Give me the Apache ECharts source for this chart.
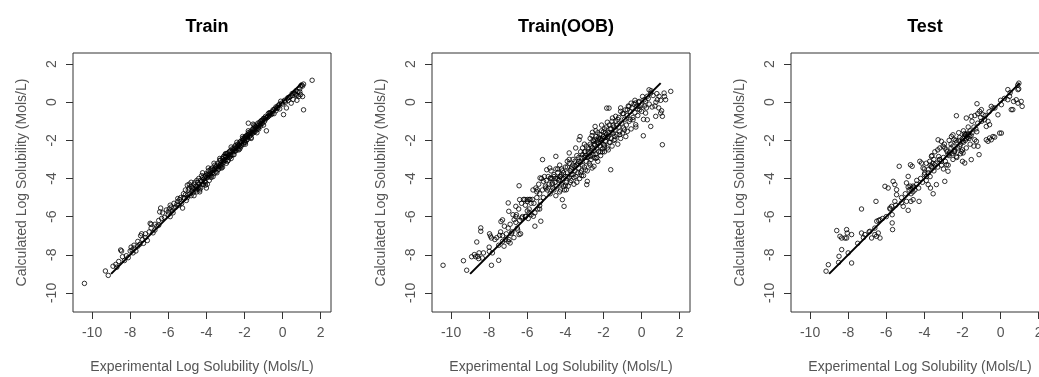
<!DOCTYPE html>
<html>
<head>
<meta charset="utf-8">
<script src="https://cdn.jsdelivr.net/npm/echarts@6/dist/echarts.min.js"></script>
<style>
  html, body { margin: 0; padding: 0; background: #fff; }
  #main { width: 1039px; height: 377px; }
</style>
</head>
<body>
<div id="main"></div>
<script>
// panel titles and tick values
var panelTitles = ['Train', 'Train(OOB)', 'Test'];
var xTicks = [-10, -8, -6, -4, -2, 0, 2];
var yTicks = [-10, -8, -6, -4, -2, 0, 2];
var xName = 'Experimental Log Solubility (Mols/L)';
var yName = 'Calculated Log Solubility (Mols/L)';

// y = x reference line
var refLine = [[-9, -9], [1, 1]];

// [experimental, calculated]
var trainPts = [
  [-10.4,-9.5],[-9.3,-8.85],[-9.15,-9.08],[-8.9,-8.6],[-8.75,-8.5],[-8.6,-8.35],[-8.5,-7.75],[-8.45,-7.8],[-8.3,-8.3],[-8.2,-8.05],
  [-8.1,-8.15],[-7.95,-7.6],[-7.9,-7.75],[-7.85,-7.9],[-7.8,-7.65],[-7.7,-7.8],[-7.6,-7.55],[-7.5,-7.45],[-7.45,-7.0],[-7.4,-6.9],
  [-7.35,-7.2],[-7.3,-7.4],[-7.2,-7.1],[-7.1,-7.25],[-7.0,-6.8],[-6.95,-6.35],[-6.9,-6.4],[-6.8,-6.85],[-6.7,-6.7],[-6.6,-6.5],
  [-6.5,-6.45],[-6.45,-5.75],[-6.4,-5.55],[-6.35,-6.1],[-6.3,-5.8],[-6.2,-6.05],[-6.1,-5.65],[-6.0,-5.9],[-5.95,-5.6],[-5.9,-6.0],
  [-5.8,-5.7],[-5.75,-5.8],[-5.6,-5.5],[-5.5,-5.2],[-5.45,-5.4],[-5.4,-5.1],[-5.3,-5.3],[-5.25,-5.55],[-5.2,-5.0],[-5.1,-4.85],
  [-5.05,-5.15],[-5.0,-4.35],[-4.95,-4.6],[-4.9,-4.5],[-4.85,-4.8],[-4.8,-4.4],[-4.75,-4.65],[-4.7,-4.75],[-4.65,-4.3],[-4.6,-4.55],
  [-4.55,-4.4],[-4.5,-4.7],[-4.45,-4.2],[-4.4,-4.45],[-4.35,-4.6],[-4.3,-4.1],[-4.25,-3.85],[-4.2,-4.3],[-4.15,-4.05],[-4.1,-3.9],
  [-4.05,-4.2],[-4.0,-3.75],[-4.0,-4.5],[-3.95,-3.95],[-3.9,-3.6],[-3.85,-4.1],[-3.8,-3.8],[-3.75,-3.5],[-3.7,-3.7],[-3.65,-3.9],
  [-3.6,-3.55],[-3.55,-3.3],[-3.5,-3.65],[-3.45,-3.45],[-3.4,-3.2],[-3.35,-3.5],[-3.3,-3.35],[-3.25,-3.05],[-3.2,-3.3],[-3.15,-2.95],
  [-3.1,-3.15],[-3.05,-2.8],[-3.0,-3.05],[-2.95,-2.85],[-2.9,-3.1],[-2.85,-2.65],[-2.8,-2.9],[-2.75,-2.55],[-2.7,-2.8],[-2.65,-2.45],
  [-2.6,-2.75],[-2.55,-2.6],[-2.5,-2.3],[-2.45,-2.55],[-2.4,-2.4],[-2.35,-2.2],[-2.3,-2.5],[-2.25,-2.3],[-2.2,-2.05],[-2.15,-2.25],
  [-2.1,-2.0],[-2.05,-2.2],[-2.0,-1.85],[-1.95,-2.1],[-1.9,-1.75],[-1.85,-1.95],[-1.8,-1.1],[-1.8,-1.7],[-1.75,-1.8],[-1.7,-1.55],
  [-1.65,-1.85],[-1.6,-1.45],[-1.55,-1.6],[-1.5,-1.35],[-1.45,-1.55],[-1.4,-1.3],[-1.35,-1.45],[-1.3,-1.1],[-1.25,-1.3],[-1.2,-1.05],
  [-1.15,-1.25],[-1.1,-0.95],[-1.05,-1.1],[-1.0,-0.85],[-0.95,-1.0],[-0.9,-0.75],[-0.85,-1.5],[-0.8,-0.8],[-0.75,-0.6],[-0.7,-0.7],
  [-0.65,-0.55],[-0.6,-0.65],[-0.5,-0.4],[-0.45,-0.6],[-0.4,-0.35],[-0.3,-0.3],[-0.2,-0.15],[-0.15,-0.35],[-0.1,0.05],[0.0,-0.1],
  [0.05,-0.65],[0.1,0.05],[0.2,-0.3],[0.25,0.2],[0.3,0.1],[0.4,0.3],[0.45,-0.05],[0.5,0.35],[0.55,0.15],[0.6,0.5],
  [0.7,0.4],[0.75,0.1],[0.8,0.55],[0.85,0.3],[0.9,0.7],[0.95,0.4],[1.0,0.9],[1.05,0.85],[1.1,0.95],[1.1,-0.4],
  [1.05,0.3],[1.55,1.15],[-1.55,-1.15],[0.75,0.35],
  [-4.9,-4.3],[-4.8,-4.9],[-4.6,-4.2],[-4.4,-4.0],[-4.3,-4.5],[-4.1,-4.15],[-3.9,-3.85],[-3.8,-3.55],[-3.6,-3.75],[-3.4,-3.55],
  [-3.3,-3.05],[-3.2,-3.45],[-3.1,-2.85],[-2.95,-3.2],[-2.9,-2.7],[-2.8,-2.6],[-2.7,-2.95],[-2.6,-2.5],[-2.5,-2.55],[-2.45,-2.25],
  [-2.35,-2.45],[-2.25,-2.1],[-2.2,-2.35],[-2.1,-1.9],[-2.0,-2.1],[-1.95,-1.9],[-1.9,-2.0],[-1.8,-1.6],[-1.7,-1.75],[-1.6,-1.65],
  [-1.5,-1.55],[-1.45,-1.25],[-1.35,-1.2],[-1.25,-1.4],[-1.15,-1.0],[-1.0,-1.2],[-5.2,-4.8],[-5.0,-5.0],[-4.7,-4.5],[-4.5,-4.45],
  [-4.2,-3.95],[-3.95,-4.3],[-3.7,-3.45],[-3.5,-3.4],[-3.25,-3.25],[-3.0,-2.85],[-2.75,-2.75],[-2.55,-2.4],[-2.3,-2.25],[-2.05,-1.95],
  [-1.85,-1.85],[-1.55,-1.4],[-1.3,-1.35],[-1.1,-1.1],[-0.9,-0.9],[-0.7,-0.55],[-0.55,-0.5],[-0.35,-0.45],[-0.25,-0.2],[0.1,0.1],
  [0.35,0.25],[0.65,0.45],[0.9,0.55],[0.95,0.85],
  [-6.0,-5.75],[-5.85,-5.5],[-5.7,-5.55],[-5.55,-5.35],[-5.35,-5.0],[-5.15,-5.05],[-4.95,-4.85],[-4.75,-4.5],[-4.55,-4.6],[-4.45,-4.55],
  [-4.35,-4.3],[-4.25,-4.15],[-4.15,-4.3],[-4.05,-3.85],[-3.95,-3.8],[-3.85,-3.75],[-3.75,-3.85],[-3.65,-3.55],[-3.55,-3.5],[-3.45,-3.3],
  [-3.35,-3.35],[-3.25,-3.4],[-3.15,-3.1],[-3.05,-3.05],[-2.95,-2.7],[-2.85,-2.8],[-2.75,-2.85],[-2.65,-2.6],[-2.55,-2.5],[-2.45,-2.4],
  [-2.35,-2.3],[-2.25,-2.2],[-2.15,-2.1],[-2.05,-2.05],[-1.95,-1.8],[-1.85,-1.75],[-1.75,-1.65],[-1.65,-1.6],[-1.55,-1.5],[-1.45,-1.45],
  [-1.35,-1.3],[-1.25,-1.2],[-1.15,-1.15],[-1.05,-0.95],[-0.95,-0.85],[-0.85,-0.8],[-0.75,-0.75],[-0.65,-0.6],[-0.55,-0.6],[-0.45,-0.4],
  [-0.35,-0.25],[-0.25,-0.3],[-0.15,-0.1],[-0.05,-0.05],[0.15,0.0],[0.3,0.25],[0.5,0.45],[0.7,0.6],[-3.9,-3.45],[-3.6,-3.2],
  [-3.3,-2.95],[-3.0,-2.7],[-2.7,-2.35],[-2.4,-2.1],[-2.1,-1.8],[-1.8,-1.5],[-1.5,-1.2],[-4.2,-3.7],[-4.5,-4.1],[-4.8,-4.2],
  [-5.1,-4.6],[-3.75,-3.95],[-3.45,-3.7],[-3.15,-3.4],[-2.85,-3.05],[-2.55,-2.75],[-2.25,-2.45],[-1.95,-2.2],[-1.65,-1.9],[-1.35,-1.6],
  [-4.05,-4.35],[-4.35,-4.7],[-4.65,-4.9],[-6.5,-6.2],[-6.7,-6.4],[-6.9,-6.6],[-7.2,-6.9],[-7.6,-7.3],[-7.8,-7.5],[-8.0,-7.8],
  [-8.4,-8.1],[-8.7,-8.65],[-5.5,-5.05],[-5.7,-5.3],[-5.9,-5.4]
];

var oobPts = [
  [-10.42,-8.55],[-9.35,-8.31],[-9.18,-8.81],[-8.92,-8.1],[-8.78,-7.99],[-8.65,-7.33],[-8.44,-6.59],[-8.44,-6.77],[-8.6,-8.08],[-8.53,-7.9],
  [-8.36,-8.17],[-7.98,-6.9],[-7.93,-7.02],[-7.88,-7.12],[-7.88,-8.55],[-7.99,-7.82],[-7.83,-7.9],[-7.5,-8.29],[-7.45,-6.98],[-7.38,-6.26],
  [-7.3,-6.17],[-7.0,-5.28],[-6.97,-5.72],[-6.83,-6.88],[-6.52,-6.6],[-6.43,-6.94],[-7.13,-7.2],[-7.22,-7.55],[-6.96,-7.2],[-6.9,-7.38],
  [-6.69,-6.16],[-6.6,-5.46],[-6.57,-5.9],[-6.43,-4.38],[-6.4,-5.11],[-6.13,-5.1],[-6.0,-5.1],[-5.9,-5.1],[-5.73,-5.1],[-6.3,-6.07],
  [-6.08,-5.98],[-5.9,-5.8],[-5.6,-6.5],[-5.68,-5.98],[-5.47,-4.59],[-5.33,-3.97],[-5.2,-3.01],[-5.35,-5.42],[-5.35,-5.6],[-5.29,-6.24],
  [-5.15,-4.15],[-5.03,-4.5],[-4.98,-3.54],[-4.82,-3.45],[-4.77,-3.97],[-4.68,-4.24],[-4.5,-2.84],[-4.16,-5.11],[-4.07,-5.46],[-3.95,-4.59],
  [-4.33,-4.06],[-3.8,-2.66],[-3.46,-2.4],[-3.28,-1.97],[-3.23,-1.8],[-2.88,-4.32],[-2.85,-4.15],[-2.67,-2.84],[-2.5,-3.36],[-2.58,-1.58],
  [-2.44,-1.27],[-1.62,-3.54],[-1.83,-0.31],[-1.71,-0.31],[-1.53,-0.83],[-1.36,-0.74],[-1.1,-0.48],[-0.66,-0.22],[-1.0,-1.62],[-0.83,-1.8],
  [-0.75,-1.53],[-0.45,-0.92],[-0.31,-1.18],[0.09,-1.76],[0.39,0.65],[0.48,0.48],[0.83,0.13],[0.92,0.31],[1.18,0.48],[1.26,0.13],
  [1.53,0.57],[1.09,-2.23],[1.0,-0.57],[1.09,-0.74],[0.74,-0.74],[0.48,-1.27],[0.3,-0.92],[0.21,-0.57],[-0.13,-0.22],[0.0,-0.48],
  [-0.31,-0.04],[-0.13,0.04],[0.13,0.13],[0.3,0.31],
  [-5.0,-4.1],[-4.95,-4.6],[-4.9,-3.9],[-4.85,-4.3],[-4.8,-4.8],[-4.75,-3.6],[-4.7,-4.0],[-4.65,-4.5],[-4.6,-3.8],[-4.55,-4.2],
  [-4.5,-4.9],[-4.5,-3.5],[-4.45,-4.4],[-4.4,-3.7],[-4.35,-4.1],[-4.3,-4.7],[-4.3,-3.3],[-4.25,-3.9],[-4.2,-4.3],[-4.15,-3.6],
  [-4.1,-4.0],[-4.05,-4.6],[-4.0,-3.4],[-4.0,-3.9],[-3.95,-4.2],[-3.9,-3.7],[-3.85,-4.4],[-3.8,-3.2],[-3.8,-3.95],[-3.75,-3.6],
  [-3.7,-4.1],[-3.65,-3.4],[-3.6,-3.8],[-3.55,-4.3],[-3.5,-3.1],[-3.5,-3.6],[-3.45,-3.9],[-3.4,-3.3],[-3.35,-3.7],[-3.3,-2.9],
  [-3.3,-3.45],[-3.25,-4.0],[-3.2,-3.15],[-3.15,-3.6],[-3.1,-2.75],[-3.1,-3.3],[-3.05,-3.85],[-3.0,-2.9],[-3.0,-3.4],[-2.95,-2.6],
  [-2.9,-3.1],[-2.85,-3.6],[-2.8,-2.4],[-2.8,-2.85],[-2.75,-3.2],[-2.7,-2.2],[-2.7,-2.65],[-2.65,-3.0],[-2.6,-2.4],[-2.6,-3.45],
  [-2.55,-2.0],[-2.5,-2.55],[-2.5,-2.9],[-2.45,-2.25],[-2.4,-1.8],[-2.4,-2.7],[-2.35,-2.4],[-2.3,-2.0],[-2.3,-3.1],[-2.25,-2.6],
  [-2.2,-1.7],[-2.2,-2.3],[-2.15,-2.8],[-2.1,-2.0],[-2.1,-1.5],[-2.05,-2.45],[-2.0,-1.8],[-2.0,-2.2],[-1.95,-2.6],[-1.9,-1.6],
  [-1.9,-2.05],[-1.85,-1.3],[-1.8,-1.85],[-1.8,-2.4],[-1.75,-1.6],[-1.7,-2.1],[-1.65,-1.4],[-1.6,-1.9],[-1.55,-2.3],[-1.5,-1.2],
  [-1.5,-1.65],[-1.45,-2.0],[-1.4,-1.45],[-1.35,-1.0],[-1.3,-1.7],[-1.25,-2.2],[-1.2,-1.3],[-1.2,-0.8],[-1.15,-1.55],[-1.1,-1.9],
  [-1.05,-1.1],[-1.0,-0.6],[-0.95,-1.35],[-0.9,-0.9],[-0.85,-0.4],[-0.8,-1.2],[-0.75,-0.7],[-0.7,-0.2],[-0.65,-1.0],[-0.6,-0.5],
  [-0.55,-1.4],[-0.5,-0.3],[-0.45,-0.8],[-0.4,-0.1],[-0.35,-0.55],[-0.3,-1.3],[-0.25,-0.2],[-0.2,-0.7],[-0.15,0.0],[-0.1,-0.4],
  [0.0,-0.15],[0.05,0.3],[0.1,-0.9],[0.2,0.05],[0.25,-0.3],[0.35,0.2],[0.4,-0.1],[0.5,0.6],[0.55,-0.25],[0.6,0.35],
  [0.7,-0.2],[0.75,0.0],[0.8,0.45],[0.9,-0.3],[1.0,0.1],[1.05,-0.45],[1.2,0.3],
  [-6.2,-5.1],[-6.1,-6.0],[-6.0,-5.2],[-5.95,-6.1],[-5.9,-5.6],[-5.85,-5.1],[-5.8,-5.9],[-5.7,-4.6],[-5.65,-5.3],[-5.6,-5.8],
  [-5.55,-4.5],[-5.5,-5.0],[-5.45,-5.6],[-5.4,-4.3],[-5.35,-4.8],[-5.3,-5.2],[-5.25,-4.0],[-5.2,-4.6],[-5.15,-5.0],[-5.1,-3.9],
  [-5.05,-4.4],[-7.6,-7.1],[-7.5,-7.5],[-7.4,-6.8],[-7.3,-7.3],[-7.2,-6.5],[-7.1,-6.9],[-7.0,-7.3],[-6.9,-6.4],[-6.8,-6.8],
  [-6.75,-5.9],[-6.7,-7.1],[-6.6,-6.3],[-6.5,-6.7],[-6.45,-5.6],[-6.4,-6.2],[-6.35,-6.9],[-6.3,-5.3],[-6.25,-6.0],
  [-4.8,-4.0],[-4.6,-4.6],[-4.4,-3.5],[-4.2,-3.8],[-4.1,-4.4],[-3.9,-3.4],[-3.7,-3.8],[-3.6,-3.0],[-3.4,-4.2],[-3.35,-3.2],
  [-3.2,-3.7],[-3.0,-2.6],[-2.9,-2.3],[-2.85,-2.9],[-2.65,-2.3],[-2.55,-2.75],[-2.45,-1.95],[-2.35,-2.9],[-2.25,-2.15],[-2.15,-1.9],
  [-2.05,-2.6],[-1.95,-2.25],[-1.85,-1.7],[-1.75,-2.5],[-1.6,-1.6],[-1.4,-1.8],[-1.3,-1.2],[-2.6,-1.75],[-2.3,-1.6],[-2.0,-1.55],
  [-1.7,-1.2],[-3.1,-2.4],[-3.4,-2.8],[-3.8,-3.0],
  [-4.7,-4.3],[-4.5,-4.0],[-4.3,-3.9],[-4.1,-3.7],[-3.9,-3.9],[-3.7,-3.5],[-3.5,-3.35],[-3.3,-3.1],[-3.15,-2.9],[-2.95,-2.8],
  [-2.8,-2.6],[-2.65,-2.55],[-2.5,-2.2],[-2.35,-2.1],[-2.2,-1.95],[-2.05,-1.9],[-1.9,-1.85],[-1.75,-1.8],[-1.6,-1.4],[-1.45,-1.3],
  [-2.7,-1.9],[-2.4,-1.5],[-2.1,-1.2],[-1.8,-1.05],[-3.0,-2.2],[-3.2,-2.6],[-3.6,-3.3],[-3.9,-3.1],[-4.2,-3.5],[-4.4,-4.0],
  [-4.6,-3.9],[-4.9,-4.5],[-3.55,-3.95],[-3.15,-3.85],[-2.95,-3.55],[-2.7,-3.3],[-2.4,-2.95],[-2.15,-2.6],[-1.95,-2.35],[-1.65,-2.1],
  [-1.4,-1.95],[-1.15,-1.7],[-0.9,-1.45],[-3.75,-4.2],[-4.0,-4.35],[-4.25,-4.6],[-2.5,-2.05],[-2.25,-1.85],[-1.95,-1.4],[-1.55,-1.0],
  [-1.25,-0.9],[-0.95,-0.6],[-0.75,-0.4],[-0.55,-0.05],[-0.35,0.1],[-1.1,-0.3],[-0.6,-0.9],[-0.2,-0.35],[0.15,-0.2],[-5.5,-4.7],
  [-5.8,-5.3],[-6.0,-5.7],[-6.6,-6.0],[-7.0,-6.6],[-7.3,-7.0],[-8.0,-7.6],[-8.3,-7.9],[-8.7,-8.1],[-8.55,-8.2],[-7.7,-7.2],
  [-6.1,-5.4]
];

var testPts = [
  [-9.16,-8.86],[-9.04,-8.52],[-8.6,-6.73],[-8.43,-7.03],[-8.34,-7.12],[-8.17,-7.12],[-8.08,-7.12],[-8.08,-6.68],[-8.05,-6.86],[-7.82,-6.94],
  [-8.34,-7.73],[-8.48,-8.08],[-7.82,-8.43],[-7.3,-5.6],[-7.3,-6.86],[-7.12,-6.94],[-6.86,-6.77],[-6.77,-7.12],[-6.6,-6.94],[-6.51,-7.03],
  [-6.42,-6.86],[-6.54,-5.2],[-6.33,-7.12],[-6.5,-6.24],[-6.33,-6.16],[-6.07,-4.41],[-5.9,-4.5],[-5.69,-5.9],[-5.69,-6.33],[-5.67,-6.68],
  [-5.81,-5.55],[-5.72,-5.46],[-5.64,-4.15],[-5.55,-4.32],[-5.46,-4.59],[-5.55,-5.2],[-5.46,-4.85],[-5.32,-3.36],[-5.2,-5.28],[-5.11,-5.46],
  [-4.94,-5.2],[-4.85,-5.67],[-4.73,-3.28],[-4.64,-3.36],[-4.62,-4.5],[-4.55,-4.45],[-4.7,-4.55],[-4.75,-4.4],[-4.71,-5.2],[-4.59,-5.11],
  [-4.28,-5.2],[-4.94,-4.23],[-4.85,-3.89],[-4.24,-3.1],[-4.15,-3.19],[-4.07,-3.45],[-3.98,-3.71],[-3.89,-3.89],[-3.8,-3.54],[-3.72,-3.1],
  [-3.63,-2.84],[-3.8,-4.32],[-3.68,-4.5],[-3.54,-4.8],[-3.37,-4.32],[-3.63,-3.36],[-3.46,-3.28],[-3.28,-1.97],[-3.19,-2.4],[-3.11,-2.05],
  [-3.02,-2.31],[-2.93,-2.4],[-2.93,-4.15],[-3.19,-3.01],[-3.11,-3.1],[-2.84,-3.28],[-2.76,-3.62],[-2.76,-2.75],[-2.67,-2.66],[-2.58,-1.8],
  [-2.5,-1.71],[-2.32,-0.71],[-2.41,-2.58],[-2.32,-2.84],[-2.15,-2.31],[-2.06,-2.58],[-1.97,-2.66],[-2.0,-3.1],[-1.88,-3.19],[-1.8,-1.71],
  [-1.71,-1.63],[-1.62,-1.8],[-1.8,-0.83],[-1.54,-0.74],[-1.54,-3.01],[-1.36,-1.97],[-1.27,-2.05],[-1.19,-2.31],[-1.13,-2.75],[-1.24,-0.08],
  [-1.1,-0.48],[-1.01,-0.39],[-0.92,-0.66],[-0.84,-0.92],[-0.75,-1.27],[-0.66,-1.0],[-0.58,-1.18],[-0.75,-1.97],[-0.66,-2.05],[-0.58,-1.88],
  [-0.49,-1.97],[-0.4,-1.8],[-0.31,-1.83],[-0.49,-0.22],[-0.4,-0.31],[-0.14,-0.66],[-0.05,-1.62],[0.04,-1.62],[0.04,-0.13],[0.38,0.66],
  [0.38,0.13],[0.47,0.31],[0.56,-0.39],[0.64,-0.39],[0.68,0.04],[0.82,0.13],[0.91,-0.05],[0.96,1.0],[0.91,0.66],[1.08,0.04],
  [1.13,-0.22],
  [-4.5,-4.6],[-4.4,-4.3],[-4.3,-4.5],[-4.2,-4.0],[-4.1,-4.2],[-4.0,-3.8],[-3.9,-4.1],[-3.8,-3.7],[-3.7,-3.9],[-3.6,-3.4],
  [-3.5,-3.6],[-3.4,-3.2],[-3.3,-3.4],[-3.2,-3.0],[-3.1,-3.3],[-3.0,-2.9],[-2.9,-3.1],[-2.8,-2.6],[-2.7,-2.8],[-2.6,-2.4],
  [-2.55,-2.7],[-2.5,-2.3],[-2.4,-2.5],[-2.3,-2.1],[-2.25,-2.4],[-2.2,-2.0],[-2.1,-2.2],[-2.0,-1.9],[-1.95,-2.1],[-1.9,-1.8],
  [-1.85,-2.0],[-1.8,-1.9],[-1.7,-1.7],[-1.6,-1.5],[-1.5,-1.6],[-1.4,-1.3],[-1.3,-1.4],[-1.2,-1.1],[-1.0,-1.0],[-0.8,-0.7],
  [-0.6,-0.5],[-0.3,-0.3],[0.0,0.1],[0.2,0.2],[0.5,0.5],[0.9,0.9],[0.95,0.7],
  [-5.0,-4.8],[-4.8,-4.6],[-4.7,-4.8],[-4.6,-4.4],[-5.2,-5.0],[-5.5,-5.4],[-5.8,-5.6],[-6.0,-6.0],[-6.2,-6.1],[-6.4,-6.2],
  [-6.6,-6.6],[-6.9,-6.8],[-7.2,-7.1],[-7.5,-7.4],[-8.0,-7.9],[-8.5,-8.4],
  [-3.45,-2.6],[-3.6,-2.8],[-3.9,-3.2],[-3.3,-2.5],[-2.95,-2.2],[-2.7,-2.0],[-2.45,-1.95],[-2.2,-1.6],[-1.95,-1.5],[-1.7,-1.3],
  [-1.5,-1.0],[-1.35,-0.7],[-1.2,-0.6],[-1.05,-0.8],
  [-3.0,-3.5],[-2.75,-3.3],[-2.5,-3.0],[-2.3,-2.9],[-2.1,-2.7],[-1.8,-2.4],[-1.6,-2.2],[-1.4,-2.3],[-2.0,-2.5],[-3.5,-3.0],
  [-3.7,-3.3],[-4.0,-3.5],
  [-2.6,-2.2],[-2.35,-2.0],[-2.15,-1.85],[-1.9,-1.65],[-1.75,-1.85],[-1.65,-1.9],[-2.45,-2.6],[-2.85,-2.5],[-3.25,-2.85],[-3.55,-3.2],
  [-4.4,-4.1],[-4.6,-4.7],[-4.85,-4.45],[-2.0,-2.05],[-1.85,-1.7],[-1.55,-1.75],[-1.25,-1.55]
];

var panelData = [trainPts, oobPts, testPts];

var myChart = echarts.init(document.getElementById('main'), null, { renderer: 'canvas' });

var FONT = '"Liberation Sans", Arial, sans-serif';
var gridLefts = [73, 432, 791];
var grids = [], xAxes = [], yAxes = [], titles = [], series = [];

for (var i = 0; i < 3; i++) {
  grids.push({
    left: gridLefts[i], top: 53, width: 258, height: 259,
    show: true, borderColor: '#333', borderWidth: 1, backgroundColor: 'transparent',
    containLabel: false, outerBoundsMode: 'none'
  });
  titles.push({
    text: panelTitles[i],
    left: gridLefts[i] + 129, top: 13, textAlign: 'center',
    textStyle: { fontFamily: FONT, fontSize: 18, fontWeight: 'bold', color: '#000' }
  });
  xAxes.push({
    type: 'value', gridIndex: i, min: -11.0, max: 2.54,
    splitLine: { show: false },
    axisLine: { show: false, onZero: false },
    axisTick: { show: true, length: 7, customValues: xTicks, lineStyle: { color: '#333', width: 1 } },
    axisLabel: { customValues: xTicks, margin: 14, fontFamily: FONT, fontSize: 14, color: '#555', hideOverlap: false },
    name: xName, nameLocation: 'middle', nameGap: 48,
    nameTextStyle: { fontFamily: FONT, fontSize: 14, color: '#555' }
  });
  yAxes.push({
    type: 'value', gridIndex: i, min: -11.0, max: 2.58,
    splitLine: { show: false },
    axisLine: { show: false, onZero: false },
    axisTick: { show: true, length: 7, customValues: yTicks, lineStyle: { color: '#333', width: 1 } },
    axisLabel: { customValues: yTicks, rotate: 90, margin: 14, fontFamily: FONT, fontSize: 14, color: '#555', hideOverlap: false },
    name: yName, nameLocation: 'middle', nameGap: 44,
    nameTextStyle: { fontFamily: FONT, fontSize: 14, color: '#555' }
  });
  series.push({
    type: 'scatter', xAxisIndex: i, yAxisIndex: i,
    data: panelData[i],
    symbol: 'circle', symbolSize: 4.5,
    itemStyle: { color: 'rgba(0,0,0,0)', borderColor: '#000', borderWidth: 1 },
    silent: true, animation: false
  });
  series.push({
    type: 'line', xAxisIndex: i, yAxisIndex: i,
    data: refLine, symbol: 'none',
    lineStyle: { color: '#000', width: 2 },
    silent: true, animation: false, z: 3
  });
}

myChart.setOption({
  animation: false,
  backgroundColor: '#fff',
  title: titles,
  grid: grids,
  xAxis: xAxes,
  yAxis: yAxes,
  series: series
});
</script>
</body>
</html>
